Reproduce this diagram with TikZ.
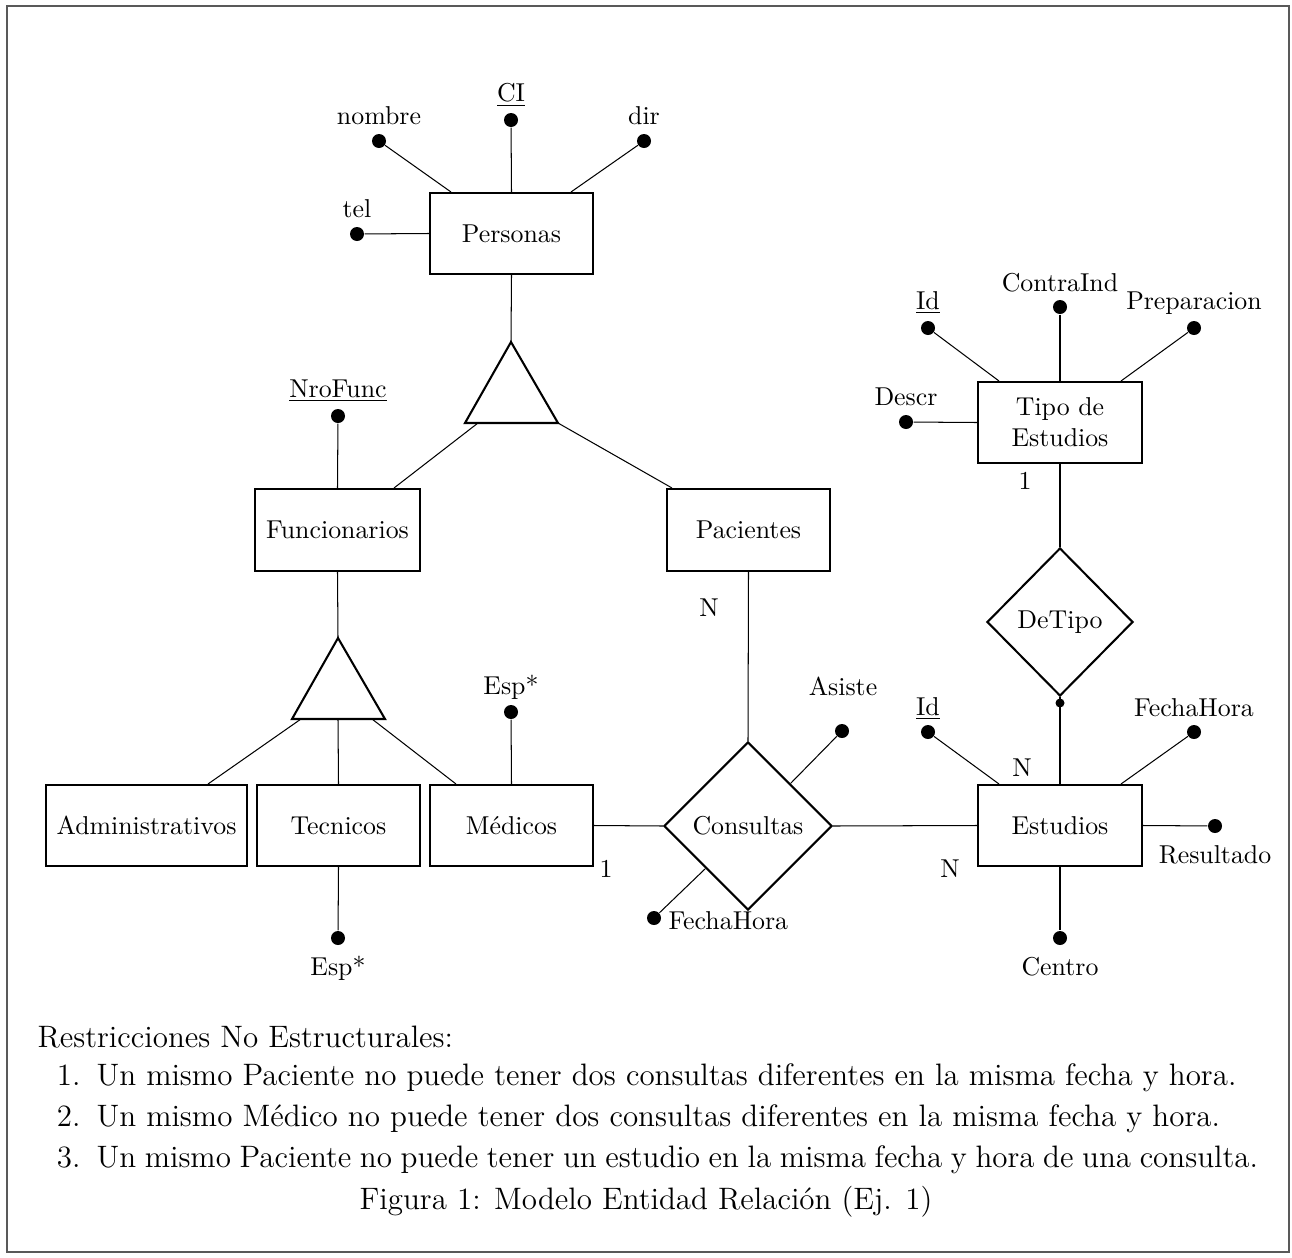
\documentclass[tikz,border=0pt]{standalone}
\usetikzlibrary{shapes.geometric,calc}
\newcommand{\pxu}{0.387pt}
\begin{document}
\begin{tikzpicture}[x=0.387pt,y=-0.387pt,
  ent/.style={draw,line width=0.8pt,inner sep=0pt,minimum width=163*\pxu,minimum height=81*\pxu,align=center},
  rel/.style={draw,line width=0.8pt,shape=diamond,inner sep=0pt,aspect=1},
  attr/.style={circle,fill=black,inner sep=0pt,minimum size=14*\pxu},
  sdot/.style={circle,fill=black,inner sep=0pt,minimum size=9*\pxu},
  lbl/.style={inner sep=0pt,anchor=base},
  conn/.style={line width=0.4pt},
  isa/.style={line width=0.8pt,line join=miter}]
\useasboundingbox (0,0) rectangle (1292,1258);
\draw[black!65,line width=0.5pt] (7,6) rectangle (1289,1252);

% entities
\node[ent] (pers) at (511.5,233.5) {Personas};
\node[ent,minimum width=165*\pxu,minimum height=82*\pxu] (func) at (337.5,530) {Funcionarios};
\node[ent,minimum height=82*\pxu] (pac) at (748.5,530) {Pacientes};
\node[ent,minimum width=201*\pxu] (admin) at (146.5,825.5) {Administrativos};
\node[ent] (tec) at (338.5,825.5) {Tecnicos};
\node[ent] (med) at (511.5,825.5) {Médicos};
\node[ent,minimum width=164*\pxu] (est) at (1060,825.5) {Estudios};
\node[ent,minimum width=164*\pxu] (tipo) at (1060,422.5) {Tipo de\\Estudios};

% relationships
\node[rel,minimum width=168*\pxu,minimum height=168*\pxu] (cons) at (748,826) {Consultas};
\node[rel,minimum width=146*\pxu,minimum height=148*\pxu] (detipo) at (1060,622) {DeTipo};

% ISA triangles
\coordinate (t1a) at (511,342);
\coordinate (t1l) at (465,423);
\coordinate (t1r) at (558,423);
\coordinate (t1bl) at (478,423);
\coordinate (t2a) at (338,638);
\coordinate (t2l) at (292,719);
\coordinate (t2r) at (385,719);
\coordinate (t2bl) at (301,719);
\coordinate (t2bm) at (338,719);
\coordinate (t2br) at (372,719);
\draw[isa] (t1a) -- (t1l) -- (t1r) -- cycle;
\draw[isa] (t2a) -- (t2l) -- (t2r) -- cycle;

% attribute dots
\node[attr] (ci) at (511,120) {};
\node[attr] (nombre) at (379,141) {};
\node[attr] (dir) at (644,141) {};
\node[attr] (tel) at (357,234) {};
\node[attr] (nrofunc) at (338,416) {};
\node[attr] (espm) at (511,712) {};
\node[attr] (espt) at (338,938) {};
\node[attr] (asiste) at (842,731) {};
\node[attr] (fhc) at (654,918) {};
\node[attr] (idest) at (928,732) {};
\node[attr] (fhe) at (1194,732) {};
\node[attr] (result) at (1215,826) {};
\node[attr] (centro) at (1060,938) {};
\node[attr] (idt) at (928,328) {};
\node[attr] (contra) at (1060,307) {};
\node[attr] (prep) at (1194,328) {};
\node[attr] (descr) at (906,422) {};
\node[sdot] (dtdot) at (1060,703) {};

% connectors
\draw[conn] (ci) -- (pers.north);
\draw[conn] (nombre) -- ($(pers.north west)+(22,0)$);
\draw[conn] (dir) -- ($(pers.north east)+(-23,0)$);
\draw[conn] (tel) -- (pers.west);
\draw[conn] (pers.south) -- (t1a);
\draw[conn] (t1bl) -- ($(func.north east)+(-27,0)$);
\draw[conn] (t1r) -- ($(pac.north west)+(6,0)$);
\draw[conn] (nrofunc) -- (func.north);
\draw[conn] (func.south) -- (t2a);
\draw[conn] (t2bl) -- ($(admin.north east)+(-40,0)$);
\draw[conn] (t2bm) -- (tec.north);
\draw[conn] (t2br) -- ($(med.north west)+(27,0)$);
\draw[conn] (espm) -- (med.north);
\draw[conn] (tec.south) -- (espt);
\draw[conn] (med.east) -- (cons.west);
\draw[conn] (pac.south) -- (cons.north);
\draw[conn] (asiste) -- ($(cons.north)!0.5!(cons.east)$);
\draw[conn] (fhc) -- ($(cons.west)!0.5!(cons.south)$);
\draw[conn] (cons.east) -- (est.west);
\draw[conn] (idest) -- ($(est.north west)+(22,0)$);
\draw[conn] (fhe) -- ($(est.north east)+(-22,0)$);
\draw[conn] (est.east) -- (result);
\draw[conn] (est.south) -- (centro);
\draw[conn] (detipo.south) -- (est.north);
\draw[conn] (tipo.south) -- (detipo.north);
\draw[conn] (idt) -- ($(tipo.north west)+(22,0)$);
\draw[conn] (contra) -- (tipo.north);
\draw[conn] (prep) -- ($(tipo.north east)+(-22,0)$);
\draw[conn] (descr) -- (tipo.west);

% attribute labels
\node[lbl] (l-ci) at (511,101) {\underline{CI}};
\node[lbl] (l-nombre) at (379,124) {nombre};
\node[lbl] (l-dir) at (644,124) {dir};
\node[lbl] (l-tel) at (357,217) {tel};
\node[lbl] (l-nrofunc) at (338,397) {\underline{NroFunc}};
\node[lbl] (l-espm) at (511,694) {Esp*};
\node[lbl] (l-espt) at (338,975) {Esp*};
\node[lbl] (l-asiste) at (843,695) {Asiste};
\node[lbl,anchor=base west] (l-fhc) at (668,929) {FechaHora};
\node[lbl] (l-idest) at (928,715) {\underline{Id}};
\node[lbl] (l-fhe) at (1194,716) {FechaHora};
\node[lbl] (l-result) at (1215,863) {Resultado};
\node[lbl] (l-centro) at (1060,975) {Centro};
\node[lbl] (l-idt) at (928,309) {\underline{Id}};
\node[lbl] (l-contra) at (1060,291) {ContraInd};
\node[lbl] (l-prep) at (1194,309) {Preparacion};
\node[lbl] (l-descr) at (906,405) {Descr};

% cardinalities
\node[lbl] (c-tipo) at (1025,489) {1};
\node[lbl] (c-med) at (606,877) {1};
\node[lbl] (c-pac) at (709,616) {N};
\node[lbl] (c-estl) at (950,877) {N};
\node[lbl] (c-estt) at (1022,776) {N};

% restrictions text
\begin{scope}[every node/.style={inner sep=0pt,font=\fontsize{12}{14.5}\selectfont}]
\node[anchor=base west] (r-head) at (37,1047) {Restricciones No Estructurales:};
\node[anchor=base east] (r-n1) at (81,1085) {1.};
\node[anchor=base west] (r-t1) at (96,1085) {Un mismo Paciente no puede tener dos consultas diferentes en la misma fecha y hora.};
\node[anchor=base east] (r-n2) at (81,1126) {2.};
\node[anchor=base west] (r-t2) at (96,1126) {Un mismo Médico no puede tener dos consultas diferentes en la misma fecha y hora.};
\node[anchor=base east] (r-n3) at (81,1167) {3.};
\node[anchor=base west] (r-t3) at (96,1167) {\hbox to 449.5pt{Un mismo Paciente no puede tener un estudio en la misma fecha y hora de una consulta.}};
\node[anchor=base] (caption) at (646,1209) {Figura 1: Modelo Entidad Relación (Ej. 1)};
\end{scope}
\end{tikzpicture}
\end{document}
